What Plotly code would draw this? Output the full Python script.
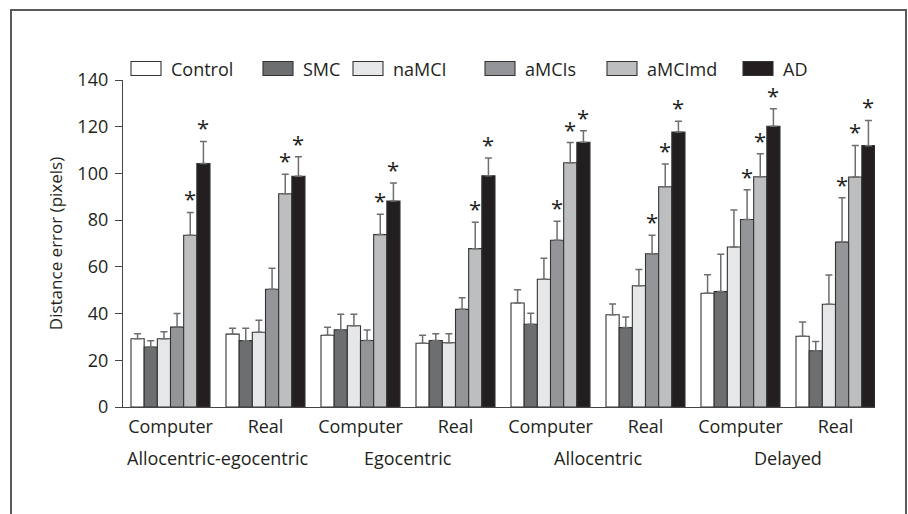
import plotly.graph_objects as go

# ---- data ----
conditions = ["Computer", "Real", "Computer", "Real", "Computer", "Real", "Computer", "Real"]
tasks = ["Allocentric-egocentric", "Egocentric", "Allocentric", "Delayed"]
series_names = ["Control", "SMC", "naMCI", "aMCIs", "aMCImd", "AD"]

control_mean = [29.2, 31.2, 30.7, 27.3, 44.5, 39.5, 48.7, 30.3]
smc_mean = [25.7, 28.4, 33.0, 28.5, 35.4, 34.0, 49.4, 24.1]
namci_mean = [29.2, 32.0, 34.8, 27.5, 54.7, 51.9, 68.5, 44.0]
amcis_mean = [34.2, 50.4, 28.5, 41.8, 71.4, 65.6, 80.3, 70.6]
amcimd_mean = [73.5, 91.3, 73.8, 67.8, 104.6, 94.3, 98.6, 98.5]
ad_mean = [104.2, 98.8, 88.2, 99.0, 113.3, 117.7, 120.2, 111.9]

control_err = [2.2, 2.5, 3.4, 3.4, 5.7, 4.6, 7.9, 6.1]
smc_err = [2.7, 5.3, 6.7, 2.9, 4.7, 4.5, 16.0, 3.9]
namci_err = [3.0, 5.1, 4.9, 3.9, 9.0, 7.0, 15.8, 12.5]
amcis_err = [5.8, 9.0, 4.5, 5.0, 8.1, 7.9, 12.7, 19.0]
amcimd_err = [9.8, 8.4, 8.7, 11.3, 8.6, 9.7, 9.8, 13.5]
ad_err = [9.5, 8.3, 7.7, 7.6, 5.0, 4.6, 7.5, 10.8]

control_sig = [0, 0, 0, 0, 0, 0, 0, 0]
smc_sig = [0, 0, 0, 0, 0, 0, 0, 0]
namci_sig = [0, 0, 0, 0, 0, 0, 0, 0]
amcis_sig = [0, 0, 0, 0, 1, 1, 1, 1]
amcimd_sig = [1, 1, 1, 1, 1, 1, 1, 1]
ad_sig = [1, 1, 1, 1, 1, 1, 1, 1]

y_ticks = [0, 20, 40, 60, 80, 100, 120, 140]

# ---- styling ----
colors = ["#ffffff", "#6d6e70", "#e6e7e8", "#939598", "#bcbec0", "#231f20"]
means = [control_mean, smc_mean, namci_mean, amcis_mean, amcimd_mean, ad_mean]
errs = [control_err, smc_err, namci_err, amcis_err, amcimd_err, ad_err]
sigs = [control_sig, smc_sig, namci_sig, amcis_sig, amcimd_sig, ad_sig]

FONT = "Open Sans"
FS = 18
TXT = "#231f20"
W, H = 908, 514
ML, MR, MT, MB = 123, 33, 79.5, 107
PW, PH = W - ML - MR, H - MT - MB
unit_px = 95.0
BARGAP = 1 - 79.0 / 95.0

xpos = list(range(len(conditions)))
n = len(series_names)

fig = go.Figure()
for name, col, m, e in zip(series_names, colors, means, errs):
    fig.add_trace(go.Bar(
        x=xpos, y=m, name=name, showlegend=False,
        marker=dict(color=col, line=dict(color="#333333", width=1.1)),
        error_y=dict(type="data", symmetric=False, array=e, arrayminus=[0] * len(e),
                     color="#6d6e70", thickness=1.5, width=3.5),
    ))

annotations = []
# significance asterisks
bw = (1 - BARGAP) / n
for j, (m, e, s) in enumerate(zip(means, errs, sigs)):
    for i in range(len(conditions)):
        if s[i]:
            annotations.append(dict(
                x=i + (j - (n - 1) / 2) * bw, y=m[i] + e[i], xref="x", yref="y",
                text="*", showarrow=False, yanchor="bottom", yshift=-3,
                font=dict(family=FONT, size=22, color=TXT)))
# task labels under each pair of conditions
for k, t in enumerate(tasks):
    annotations.append(dict(
        x=(xpos[2 * k] + xpos[2 * k + 1]) / 2, y=0, xref="x", yref="paper",
        text=t, showarrow=False, yanchor="middle", yshift=-51,
        font=dict(family=FONT, size=FS, color=TXT)))

def px2x(px):
    return (px - ML) / PW

def px2y(py):
    return (H - MB - py) / PH

shapes = []
# manual legend
legend_left_px = [131, 263, 353, 485, 607, 743]
for name, col, lx in zip(series_names, colors, legend_left_px):
    shapes.append(dict(type="rect", xref="paper", yref="paper",
                       x0=px2x(lx), x1=px2x(lx + 30), y0=px2y(75), y1=px2y(61),
                       fillcolor=col, line=dict(color="#333333", width=1.1)))
    annotations.append(dict(x=px2x(lx + 38), y=px2y(68), xref="paper", yref="paper",
                            text=name, showarrow=False, xanchor="left", yanchor="middle",
                            font=dict(family=FONT, size=FS, color=TXT)))
# outer frame
shapes.append(dict(type="rect", xref="paper", yref="paper",
                   x0=px2x(11), x1=px2x(906), y0=px2y(540), y1=px2y(9.5),
                   line=dict(color="#5a5a5a", width=2), fillcolor="rgba(0,0,0,0)", layer="below"))

fig.update_layout(
    width=W, height=H, margin=dict(l=ML, r=MR, t=MT, b=MB, autoexpand=False),
    paper_bgcolor="white", plot_bgcolor="white",
    barmode="group", bargap=BARGAP, bargroupgap=0,
    font=dict(family=FONT, size=FS, color=TXT),
    showlegend=False,
    xaxis=dict(range=[-0.5, -0.5 + PW / unit_px], tickmode="array", tickvals=xpos,
               ticktext=conditions, ticks="", showline=True, linecolor="#444444",
               linewidth=1.3, showgrid=False, zeroline=False, fixedrange=True,
               ticklabelstandoff=3,
               tickfont=dict(family=FONT, size=FS, color=TXT)),
    yaxis=dict(range=[0, 140], tickmode="array", tickvals=y_ticks, ticks="outside",
               ticklen=7, tickwidth=1.3, tickcolor="#444444", showline=True,
               linecolor="#444444", linewidth=1.3, showgrid=False, zeroline=False,
               ticklabelstandoff=3,
               tickfont=dict(family=FONT, size=FS, color=TXT),
               title=dict(text="Distance error (pixels)", standoff=10,
                          font=dict(family=FONT, size=17, color=TXT))),
    annotations=annotations, shapes=shapes,
)

fig.write_html("out.html")
